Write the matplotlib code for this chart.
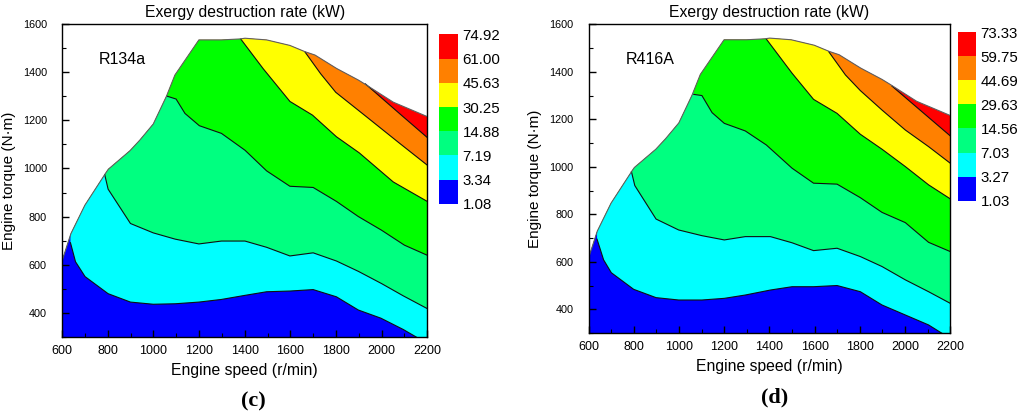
import matplotlib
matplotlib.use("Agg")
import matplotlib.pyplot as plt
from matplotlib.patches import Polygon
from matplotlib.colors import ListedColormap, BoundaryNorm
from matplotlib.colorbar import ColorbarBase
from matplotlib.ticker import MultipleLocator

plt.rcParams['font.family'] = ['Liberation Sans', 'DejaVu Sans']

# Envolvente de par maximo (misma para los dos refrigerantes)
env_speed = [600, 638, 699, 794, 802, 897, 940, 999, 1057, 1094, 1199, 1298, 1379, 1401,
             1496, 1598, 1664, 1708, 1803, 1898, 1934, 2051, 2200]
env_torque = [618, 729, 847, 986, 997, 1074, 1118, 1185, 1301, 1389, 1535, 1535, 1539, 1542,
              1535, 1512, 1486, 1472, 1416, 1368, 1347, 1276, 1216]

# ---- (c) R134a : lineas de frontera entre niveles ----
c_levels = [1.08, 3.34, 7.19, 14.88, 30.25, 45.63, 61.00, 74.92]

c_b1_x = [636, 658, 700, 801, 899, 999, 1095, 1199, 1298, 1401, 1496, 1598, 1700, 1802, 1898, 1997, 2095, 2153]
c_b1_y = [691, 612, 550, 479, 444, 435, 437, 444, 455, 472, 487, 490, 496, 466, 411, 377, 330, 298]

c_b2_x = [786, 801, 899, 999, 1095, 1199, 1298, 1401, 1496, 1598, 1700, 1802, 1898, 2000, 2095, 2200]
c_b2_y = [975, 914, 771, 732, 706, 686, 698, 698, 672, 636, 649, 615, 572, 521, 470, 417]

c_b3_x = [1059, 1099, 1138, 1201, 1298, 1401, 1496, 1598, 1700, 1802, 1898, 2000, 2100, 2200]
c_b3_y = [1301, 1289, 1229, 1178, 1146, 1076, 990, 926, 921, 863, 800, 743, 681, 639]

c_b4_x = [1383, 1481, 1598, 1697, 1802, 1902, 2051, 2200]
c_b4_y = [1538, 1415, 1279, 1222, 1132, 1065, 944, 863]

c_b5_x = [1664, 1733, 1799, 1930, 2080, 2200]
c_b5_y = [1485, 1394, 1317, 1218, 1104, 1014]

c_b6_x = [1929, 2095, 2200]
c_b6_y = [1352, 1215, 1129]

# ---- (d) R416A ----
d_levels = [1.03, 3.27, 7.03, 14.56, 29.63, 44.69, 59.75, 73.33]

d_b1_x = [637, 666, 700, 799, 898, 998, 1101, 1200, 1293, 1404, 1500, 1595, 1699, 1802, 1898, 2001, 2104, 2163]
d_b1_y = [695, 608, 554, 484, 449, 439, 439, 446, 460, 481, 495, 495, 500, 474, 418, 376, 334, 299]

d_b2_x = [789, 804, 898, 998, 1101, 1200, 1293, 1404, 1500, 1595, 1699, 1802, 1898, 2001, 2104, 2200]
d_b2_y = [980, 921, 780, 734, 710, 692, 706, 706, 680, 647, 657, 622, 580, 524, 474, 425]

d_b3_x = [1065, 1101, 1146, 1200, 1293, 1386, 1500, 1595, 1699, 1802, 1898, 2001, 2104, 2200]
d_b3_y = [1305, 1300, 1228, 1183, 1151, 1092, 994, 931, 927, 870, 808, 765, 682, 643]

d_b4_x = [1386, 1500, 1595, 1699, 1802, 1898, 2001, 2104, 2200]
d_b4_y = [1538, 1394, 1284, 1225, 1137, 1074, 1001, 924, 865]

d_b5_x = [1662, 1736, 1802, 1898, 2001, 2104, 2200]
d_b5_y = [1485, 1387, 1321, 1239, 1155, 1085, 1015]

d_b6_x = [1942, 2200]
d_b6_y = [1340, 1130]

colores = ['#0000ff', '#00ffff', '#00ff80', '#00ff00', '#ffff00', '#ff8000', '#ff0000']


def dibujar(ax, cax, lineas, niveles, nombre, letra, xletra):
    env_pts = list(zip(env_speed, env_torque)) + [(2200, 200), (600, 200)]
    env = Polygon(env_pts, closed=True, facecolor=colores[-1], edgecolor='none')
    ax.add_patch(env)
    # se rellena de arriba hacia abajo, cada zona bajo su frontera
    for k in range(len(lineas) - 1, -1, -1):
        xs, ys = lineas[k]
        pts = list(zip(xs, ys)) + [(xs[-1], 200), (500, 200), (500, 1700), (xs[0], 1700)]
        p = Polygon(pts, closed=True, facecolor=colores[k], edgecolor='none')
        ax.add_patch(p)
        p.set_clip_path(env)
    for xs, ys in lineas:
        ax.plot(xs, ys, color='#101010', lw=0.8)
    ax.plot(env_speed, env_torque, color='#606060', lw=0.8)

    ax.set_xlim(600, 2200)
    ax.set_ylim(300, 1600)
    ax.xaxis.set_major_locator(MultipleLocator(200))
    ax.xaxis.set_minor_locator(MultipleLocator(100))
    ax.yaxis.set_minor_locator(MultipleLocator(100))
    ax.set_yticks([400, 600, 800, 1000, 1200, 1400, 1600])
    ax.tick_params(which='major', direction='in', length=5, width=1)
    ax.tick_params(which='minor', direction='in', length=3, width=0.8)
    ax.tick_params(axis='x', labelsize=9, pad=6)
    ax.tick_params(axis='y', labelsize=7.8, pad=11)
    for s in ax.spines.values():
        s.set_linewidth(1.0)
    ax.set_xlabel('Engine speed (r/min)', fontsize=11.3, labelpad=4)
    ax.set_ylabel('Engine torque (N\u00b7m)', fontsize=11, labelpad=5)
    ax.set_title('Exergy destruction rate (kW)', fontsize=11.3, pad=5)
    ax.text(762, 1452, nombre, fontsize=11.5, va='center')
    ax.text(xletra, -0.175, letra, transform=ax.transAxes, ha='center', va='top',
            fontsize=16, fontweight='bold', family='Liberation Serif')

    cmap = ListedColormap(colores)
    norm = BoundaryNorm(niveles, cmap.N)
    cb = ColorbarBase(cax, cmap=cmap, norm=norm, boundaries=niveles, ticks=niveles,
                      spacing='uniform')
    cb.outline.set_visible(False)
    cb.ax.set_yticklabels(['%.2f' % v for v in niveles])
    cb.ax.tick_params(length=0, labelsize=10.8, pad=3)


fig = plt.figure(figsize=(10.24, 4.18), dpi=100)
ax1 = fig.add_axes([0.0608, 0.1945, 0.3564, 0.7474])
cax1 = fig.add_axes([0.429, 0.512, 0.0186, 0.406])
ax2 = fig.add_axes([0.5749, 0.2033, 0.3531, 0.7385])
cax2 = fig.add_axes([0.9353, 0.5199, 0.0182, 0.403])

lineas_c = [(c_b1_x, c_b1_y), (c_b2_x, c_b2_y), (c_b3_x, c_b3_y),
            (c_b4_x, c_b4_y), (c_b5_x, c_b5_y), (c_b6_x, c_b6_y)]
lineas_d = [(d_b1_x, d_b1_y), (d_b2_x, d_b2_y), (d_b3_x, d_b3_y),
            (d_b4_x, d_b4_y), (d_b5_x, d_b5_y), (d_b6_x, d_b6_y)]

dibujar(ax1, cax1, lineas_c, c_levels, 'R134a', '(c)', 0.525)
dibujar(ax2, cax2, lineas_d, d_levels, 'R416A', '(d)', 0.515)

fig.savefig('out.png', dpi=100)
